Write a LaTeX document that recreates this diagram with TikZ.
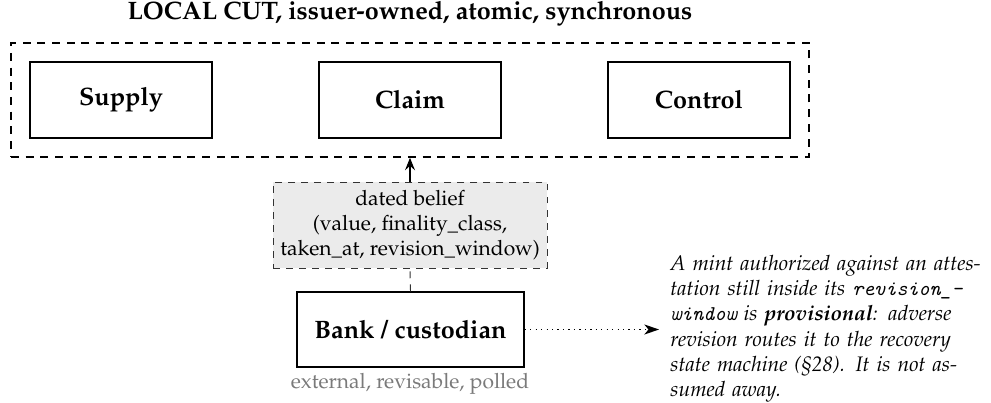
\documentclass[tikz,border=0pt]{standalone}
\usepackage[T1]{fontenc}
\usepackage{mathpazo}
\usetikzlibrary{arrows.meta}
\definecolor{beliefgray}{HTML}{EBEBEB}
\definecolor{labelgray}{HTML}{7A7A7A}
\newcommand\monoit[1]{{\fontencoding{TU}\fontfamily{lmtt}\itshape\selectfont #1}}
\def\pxu{0.4762pt}
\begin{document}
\begin{tikzpicture}[x=0.4762pt,y=-0.4762pt,
  cutbox/.style={draw,line width=0.75pt,dash pattern=on 3.8pt off 3.2pt,minimum width={798*\pxu},minimum height={114*\pxu},inner sep=0pt},
  compbox/.style={draw,line width=0.7pt,minimum width={182*\pxu},minimum height={76*\pxu},inner sep=0pt,font=\large\bfseries},
  beliefbox/.style={draw=black!80,line width=0.45pt,dash pattern=on 3.3pt off 2.9pt,fill=beliefgray,minimum width={274*\pxu},minimum height={86*\pxu},inner sep=1pt,align=center},
  bankbox/.style={draw,line width=0.7pt,minimum width={227*\pxu},minimum height={75*\pxu},inner sep=0pt,font=\large\bfseries},
  tip/.style={-{Stealth[length=6pt,width=4.8pt,inset=2.2pt]}},
  bigtip/.style={-{Stealth[length=7pt,width=4.8pt,inset=2pt]}}]
\useasboundingbox (0,0) rectangle (991,403);
\node[font=\large\bfseries] (title) at (410,14) {LOCAL CUT, issuer-owned, atomic, synchronous};
\node[cutbox] (cut) at (410,100) {};
\node[compbox] (supply) at (121,100) {Supply};
\node[compbox] (claim) at (410,100) {Claim};
\node[compbox] (control) at (699,100) {Control};
\node[beliefbox] (belief) at (410,225) {dated belief\\(value, finality\_class,\\taken\_at, revision\_window)};
\node[bankbox] (bank) at (410.5,329.5) {Bank / custodian};
\node[text=labelgray] (ext) at (410,384) {external, revisable, polled};
\node[anchor=north west,inner sep=0pt,text width={318*\pxu},font=\itshape] (note) at (670,255)
  {A mint authorized against an attes-\linebreak tation still inside its \monoit{revision\_-}\linebreak\monoit{window} is \textbf{provisional}: adverse revision routes it to the recovery state machine (\S28). It is not as-\linebreak sumed away.};
\coordinate (tipend) at (659,329.5);
\draw[line width=0.5pt,tip] (belief.north) -- (cut.south);
\draw[line width=0.45pt,draw=black!80,dash pattern=on 3.3pt off 2.9pt] (bank.north) -- (belief.south);
\draw[line width=0.6pt,dotted,bigtip] (bank.east) -- (tipend);
\end{tikzpicture}
\end{document}
